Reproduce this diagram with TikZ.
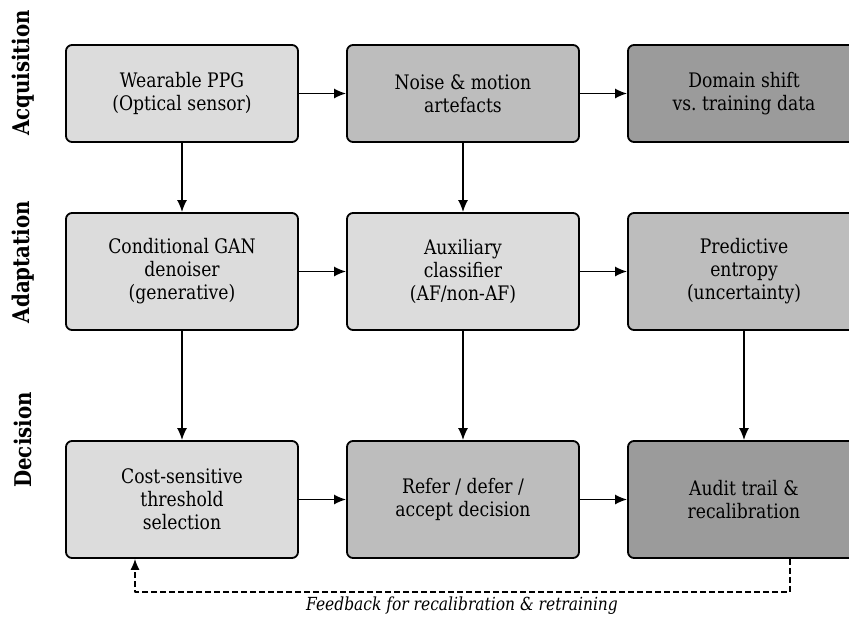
\documentclass[tikz,border=0pt]{standalone}
\usepackage{fontspec}
\setmainfont{DejaVu Serif}[FakeStretch=0.86]
\usetikzlibrary{arrows.meta,positioning}
\definecolor{stagelight}{RGB}{220,220,220}
\definecolor{stagemid}{RGB}{189,189,189}
\definecolor{stagedark}{RGB}{155,155,155}
\tikzset{
  stagebox/.style={draw=black, line width=1.8pt, rounded corners=6pt,
    minimum width=232pt, align=center, inner sep=0pt,
    font=\fontsize{20}{23}\selectfont},
  flow/.style={-{Latex[length=12pt,width=10pt]}, line width=1.6pt},
  rowlabel/.style={rotate=90, font=\bfseries\fontsize{23}{26}\selectfont}
}

\begin{document}
\begin{tikzpicture}[x=1pt, y=-1pt, line join=round]
  \clip (0,0) rectangle (849,616);

  % Row labels on the left margin.
  \node[rowlabel] (acqlabel) at (23,73) {Acquisition};
  \node[rowlabel] (adalabel) at (23,262) {Adaptation};
  \node[rowlabel] (declabel) at (23,440) {Decision};

  % Acquisition row.
  \node[stagebox, fill=stagelight, minimum height=97pt] (wearable) at (182,93.5)
    {Wearable PPG\\(Optical sensor)};
  \node[stagebox, fill=stagemid, minimum height=97pt] (noise) at (463,93.5)
    {Noise \& motion\\artefacts};
  \node[stagebox, fill=stagedark, minimum height=97pt] (shift) at (744,93.5)
    {Domain shift\\vs.\ training data};

  % Adaptation row.
  \node[stagebox, fill=stagelight, minimum height=117pt] (gan) at (182,271.5)
    {Conditional GAN\\denoiser\\(generative)};
  \node[stagebox, fill=stagelight, minimum height=117pt] (auxclf) at (463,271.5)
    {Auxiliary\\classifier\\(AF/non-AF)};
  \node[stagebox, fill=stagemid, minimum height=117pt] (entropy) at (744,271.5)
    {Predictive\\entropy\\(uncertainty)};

  % Decision row.
  \node[stagebox, fill=stagelight, minimum height=117pt] (threshold) at (182,499.5)
    {Cost-sensitive\\threshold\\selection};
  \node[stagebox, fill=stagemid, minimum height=117pt] (refer) at (463,499.5)
    {Refer / defer /\\accept decision};
  \node[stagebox, fill=stagedark, minimum height=117pt] (audit) at (744,499.5)
    {Audit trail \&\\recalibration};

  % Flow along each row.
  \draw[flow] (wearable) -- (noise);
  \draw[flow] (noise) -- (shift);
  \draw[flow] (gan) -- (auxclf);
  \draw[flow] (auxclf) -- (entropy);
  \draw[flow] (threshold) -- (refer);
  \draw[flow] (refer) -- (audit);

  % Flow between rows.
  \draw[flow] (wearable) -- (gan);
  \draw[flow] (noise) -- (auxclf);
  \draw[flow] (gan) -- (threshold);
  \draw[flow] (auxclf) -- (refer);
  \draw[flow] (entropy) -- (audit);

  % Feedback loop back to the threshold.
  \coordinate (fbright) at ([xshift=46pt]audit.south |- 0,592);
  \coordinate (fbleft) at ([xshift=-47pt]threshold.south |- 0,592);
  \draw[-{Latex[length=11pt,width=9pt]}, line width=1.3pt,
    dash pattern=on 6pt off 3pt]
    ([xshift=46pt]audit.south) -- (fbright) -- (fbleft)
    -- ([xshift=-47pt]threshold.south);
  \node[font=\itshape\fontsize{18}{20}\selectfont] (fblabel) at (462,606)
    {Feedback for recalibration \& retraining};
\end{tikzpicture}
\end{document}
